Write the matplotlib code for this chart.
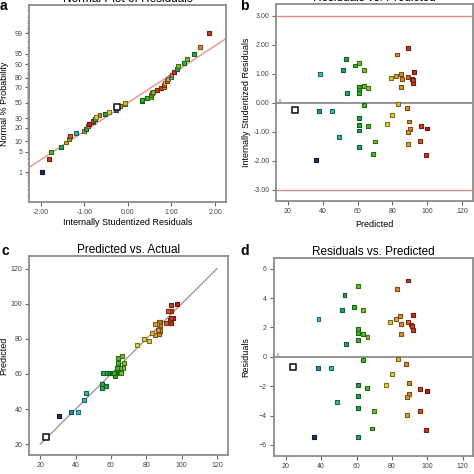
import numpy as np
import matplotlib
matplotlib.use("Agg")
import matplotlib.pyplot as plt
from matplotlib.colors import LinearSegmentedColormap, Normalize
from statistics import NormalDist

plt.rcParams['font.family'] = ['Liberation Sans', 'DejaVu Sans']

# values (one entry per run)
predicted = [24.2, 36.0, 38.5, 38.1, 45.4, 49.2, 53.2, 51.9, 54.2, 58.7,
             60.8, 63.5, 60.8, 60.8, 60.8, 63.5, 66.2, 63.5, 60.8, 60.8,
             60.8, 60.8, 66.0, 70.0, 68.9, 76.7, 79.9, 79.0, 82.2, 82.8,
             84.7, 85.3, 84.9, 83.4, 88.1, 88.9, 88.9, 92.1, 91.0, 91.6,
             92.0, 89.5, 89.8, 88.7, 88.7, 96.1, 99.9, 95.9, 99.2]
residuals = [-0.71, -5.45, 2.60, -0.78, -0.78, -3.10, 4.21, 3.16, 0.90, 3.37,
             4.82, 3.20, 1.92, 1.62, 1.14, 1.55, 1.37, -0.22, -1.94, -2.69,
             -3.46, -5.45, -2.12, -3.66, -4.88, -1.89, -1.14, 2.37, 2.55, 4.60,
             2.80, 2.25, 1.55, -0.17, -0.46, 5.20, 2.37, 2.87, 2.20, 2.10,
             1.82, -1.78, -2.51, -2.73, -3.93, -2.21, -2.30, -3.71, -5.00]
stud_resid = [-0.26, -1.97, 0.99, -0.28, -0.28, -1.19, 1.51, 1.13, 0.32, 1.28,
              1.36, 1.14, 0.53, 0.44, 0.32, 0.57, 0.52, -0.07, -0.53, -0.76,
              -0.96, -1.54, -0.81, -1.34, -1.76, -0.73, -0.43, 0.84, 0.92, 1.66,
              1.00, 0.82, 0.55, -0.06, -0.17, 1.87, 0.90, 1.05, 0.83, 0.77,
              0.66, -0.65, -0.91, -1.00, -1.42, -0.79, -0.89, -1.33, -1.80]
actual = [23.5, 30.6, 41.1, 37.3, 44.6, 46.1, 57.4, 55.1, 55.1, 62.1,
          65.6, 66.7, 62.7, 62.4, 61.9, 65.1, 67.6, 63.3, 58.9, 58.1,
          57.3, 55.4, 63.9, 66.3, 64.0, 74.8, 78.8, 81.4, 84.8, 87.4,
          87.5, 87.6, 86.5, 83.2, 87.6, 94.1, 91.3, 95.0, 93.2, 93.7,
          93.8, 87.7, 87.3, 86.0, 84.8, 93.9, 97.6, 92.2, 94.2]
prob_ticks = [1, 5, 10, 20, 30, 50, 70, 80, 90, 95, 99]

predicted = np.array(predicted)
residuals = np.array(residuals)
stud_resid = np.array(stud_resid)
actual = np.array(actual)

# colour by actual value, design-expert style
vmin, vmax = 30.0, 98.0
stops = [(30.5, '#1c3557'), (37, '#2c8c98'), (41, '#3cc4cc'), (46, '#34b8a4'),
         (55, '#28a860'), (59, '#22a63a'), (63, '#3cbc22'), (67, '#7cc828'),
         (75, '#dcdc3a'), (83, '#e2c03c'), (86, '#d89a30'), (88, '#e08828'),
         (92, '#d85a20'), (95, '#c83020'), (98, '#b82020')]
cmap = LinearSegmentedColormap.from_list(
    'de', [((v - vmin) / (vmax - vmin), c) for v, c in [(vmin, stops[0][1])] + stops])
cmap.set_under('white')
norm = Normalize(vmin, vmax)

def colours(vals):
    face = cmap(norm(vals))
    edge = face.copy()
    edge[:, :3] = edge[:, :3] * 0.55
    low = np.asarray(vals) < vmin
    edge[low] = (0.1, 0.1, 0.15, 1)
    return face, edge

def squares(ax, x, y, vals):
    x, y, vals = np.asarray(x), np.asarray(y), np.asarray(vals)
    face, edge = colours(vals)
    low = vals < vmin
    ax.scatter(x[~low], y[~low], s=8, marker='s', c=face[~low],
               edgecolors=edge[~low], linewidths=0.8, zorder=3)
    ax.scatter(x[low], y[low], s=13, marker='s', c=face[low],
               edgecolors=edge[low], linewidths=1.2, zorder=3)

def style(ax):
    for sp in ax.spines.values():
        sp.set_color('#8c8c8c')
        sp.set_linewidth(1.3)
    ax.tick_params(direction='out', length=3, width=0.8, color='#666666',
                   labelsize=5, labelcolor='#444444', pad=2)

W = 474.0
fig = plt.figure(figsize=(4.74, 4.74), dpi=100)

def box(l, t, r, b):
    return [l / W, (W - b) / W, (r - l) / W, (b - t) / W]

ax_a = fig.add_axes(box(29.3, 5, 226, 201.7))
ax_b = fig.add_axes(box(276.3, 4.3, 473.3, 201))
ax_c = fig.add_axes(box(29.3, 256, 228.3, 455.3))
ax_d = fig.add_axes(box(273.7, 257.7, 473.3, 455.7))

nd = NormalDist()

# a) normal plot
order = np.argsort(stud_resid, kind='stable')
n = len(stud_resid)
xs = stud_resid[order]
zs = np.array([nd.inv_cdf((i + 0.5) / n) for i in range(n)])
slope, icpt = np.polyfit(xs, zs, 1)
xl = np.array([-2.26, 2.25])
ax_a.plot(xl, slope * xl + icpt, color='#e89090', lw=1.0, zorder=2)
squares(ax_a, xs, zs, actual[order])
ax_a.set_xticks([-2, -1, 0, 1, 2])
ax_a.set_xticklabels([f'{v:.2f}' for v in [-2, -1, 0, 1, 2]])
ax_a.set_yticks([nd.inv_cdf(p / 100) for p in prob_ticks])
ax_a.set_yticklabels([str(p) for p in prob_ticks])
minor = [0.1 * k for k in range(1, 10)] + list(range(1, 100)) + [99 + 0.1 * k for k in range(1, 10)]
ax_a.set_yticks([nd.inv_cdf(p / 100) for p in minor], minor=True)
ax_a.tick_params(axis='y', which='minor', length=1.5, width=0.5, color='#777777')
ax_a.set_xlim(-2.26, 2.25)
ax_a.set_ylim(-3.31, 3.27)
style(ax_a)
ax_a.set_title('Normal Plot of Residuals', fontsize=8.5, pad=0.8)
ax_a.set_xlabel('Internally Studentized Residuals', fontsize=6.5)
ax_a.set_ylabel('Normal % Probability', fontsize=6.5)
ax_a.xaxis.set_label_coords(0.5, -0.085)
ax_a.yaxis.set_label_coords(-0.105, 0.5)

# b) studentized residuals vs predicted
ax_b.axhline(3, color='#e08a8a', lw=1.0, zorder=1)
ax_b.axhline(-3, color='#e08a8a', lw=1.0, zorder=1)
ax_b.axhline(0, color='#8c8c8c', lw=1.3, zorder=1)
squares(ax_b, predicted, stud_resid, actual)
ax_b.set_xticks([20, 40, 60, 80, 100, 120])
ax_b.set_yticks([3, 2, 1, 0, -1, -2, -3])
ax_b.set_yticklabels([f'{v:.2f}' for v in [3, 2, 1, 0, -1, -2, -3]])
ax_b.set_xlim(13.5, 126.3)
ax_b.set_ylim(-3.39, 3.39)
ax_b.text(0.015, 0.5, '0', transform=ax_b.transAxes, fontsize=3, va='bottom', color='#555555')
style(ax_b)
ax_b.set_title('Residuals vs. Predicted', fontsize=8.5, pad=0.8)
ax_b.set_xlabel('Predicted', fontsize=6.5)
ax_b.set_ylabel('Internally Studentized Residuals', fontsize=6.5)
ax_b.xaxis.set_label_coords(0.5, -0.095)
ax_b.yaxis.set_label_coords(-0.13, 0.5)

# c) predicted vs actual
ax_c.plot([20, 120], [20, 120], color='#9c8c9c', lw=0.9, zorder=2)
squares(ax_c, actual, predicted, actual)
ax_c.set_xticks([20, 40, 60, 80, 100, 120])
ax_c.set_yticks([20, 40, 60, 80, 100, 120])
ax_c.set_xlim(13.8, 126.4)
ax_c.set_ylim(13.7, 127.2)
style(ax_c)
ax_c.set_title('Predicted vs. Actual', fontsize=8.5, pad=1.5)
ax_c.set_ylabel('Predicted', fontsize=6.5)
ax_c.yaxis.set_label_coords(-0.104, 0.5)

# d) residuals vs predicted
ax_d.axhline(0, color='#8c8c8c', lw=1.3, zorder=1)
squares(ax_d, predicted, residuals, actual)
ax_d.set_xticks([20, 40, 60, 80, 100, 120])
ax_d.set_yticks([-6, -4, -2, 0, 2, 4, 6])
ax_d.set_xlim(13.2, 126.0)
ax_d.set_ylim(-6.73, 6.75)
ax_d.text(0.015, 0.5, '0', transform=ax_d.transAxes, fontsize=3, va='bottom', color='#555555')
style(ax_d)
ax_d.set_title('Residuals vs. Predicted', fontsize=8.5, pad=1.5)
ax_d.set_ylabel('Residuals', fontsize=6.5)
ax_d.yaxis.set_label_coords(-0.115, 0.5)

# panel letters
fig.text(0.0, 1.0 + 1.5 / W, 'a', fontsize=10, fontweight='bold', va='top')
fig.text(240 / W, 1.0 + 1.5 / W, 'b', fontsize=10, fontweight='bold', va='top')
fig.text(2 / W, (W - 244) / W, 'c', fontsize=10, fontweight='bold', va='top')
fig.text(240 / W, (W - 244) / W, 'd', fontsize=10, fontweight='bold', va='top')

fig.savefig('out.png', dpi=100)
